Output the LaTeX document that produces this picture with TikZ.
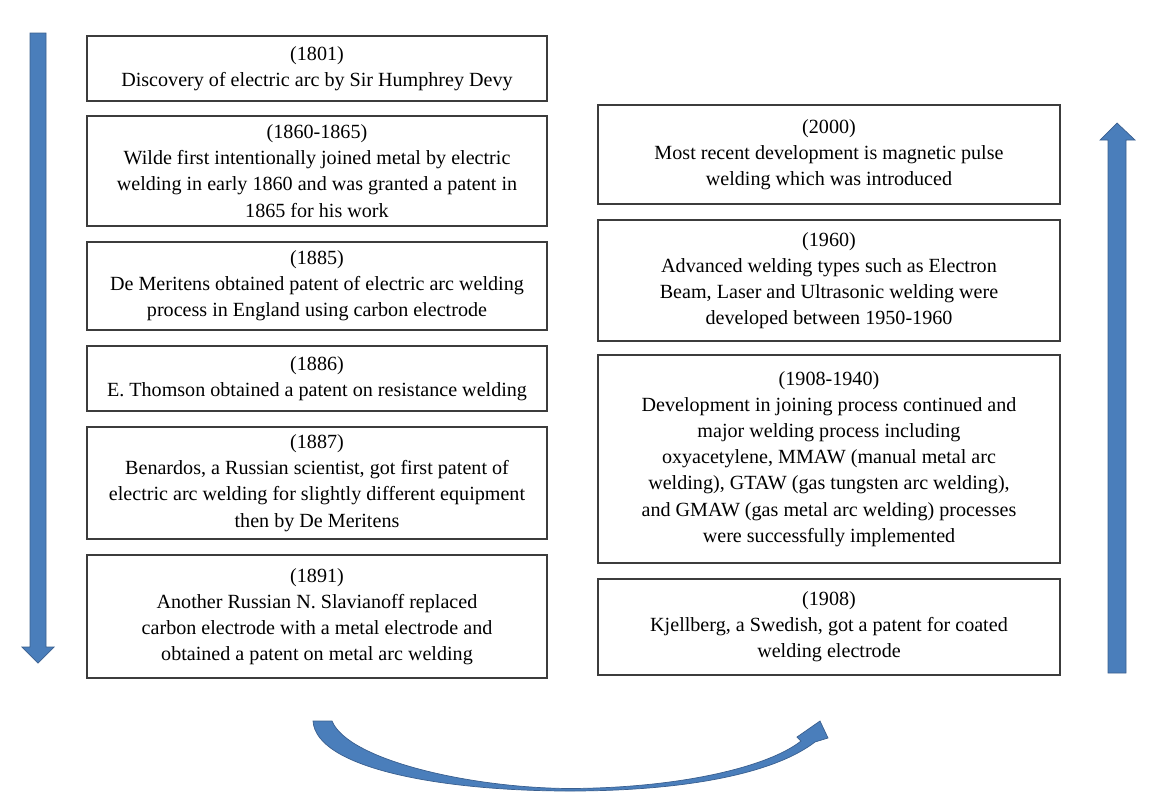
\documentclass[tikz,border=0pt]{standalone}
\usepackage{fontspec}
\setmainfont{Liberation Serif}
\definecolor{arrowblue}{HTML}{4A7EBB}
\definecolor{arrowedge}{HTML}{3A5F8F}
\definecolor{boxline}{HTML}{3C3C3C}
\tikzset{
  evt/.style={draw=boxline, line width=1.1pt, align=center, inner sep=0pt,
    font=\fontsize{14.3}{18.6}\selectfont},
  evtL/.style={evt, minimum width=11.5cm},
  evtR/.style={evt, minimum width=11.55cm},
  bluearrow/.style={fill=arrowblue, draw=arrowedge, line width=0.5pt, line join=miter}
}
\begin{document}
\begin{tikzpicture}[x=0.025cm, y=-0.025cm]
			%%%%% START %%%%%
			\useasboundingbox (0, 0) rectangle (1152, 791);
			
			% left column, read downwards
			\node[evtL, minimum height=1.625cm] (y1801) at (317, 68.5) {(1801)\\Discovery of electric arc by Sir Humphrey Devy};
			\node[evtL, minimum height=2.75cm] (y1860) at (317, 171) {(1860-1865)\\Wilde first intentionally joined metal by electric\\welding in early 1860 and was granted a patent in\\1865 for his work};
			\node[evtL, minimum height=2.2cm] (y1885) at (317, 286) {(1885)\\De Meritens obtained patent of electric arc welding\\process in England using carbon electrode};
			\node[evtL, minimum height=1.625cm] (y1886) at (317, 378.5) {(1886)\\E. Thomson obtained a patent on resistance welding};
			\node[evtL, minimum height=2.8cm] (y1887) at (317, 483) {(1887)\\Benardos, a Russian scientist, got first patent of\\electric arc welding for slightly different equipment\\then by De Meritens};
			\node[evtL, minimum height=3.075cm] (y1891) at (317, 616.5) {(1891)\\Another Russian N. Slavianoff replaced\\carbon electrode with a metal electrode and\\obtained a patent on metal arc welding};
			
			% right column, read upwards
			\node[evtR, minimum height=2.475cm] (y2000) at (829, 154.5) {(2000)\\Most recent development is magnetic pulse\\welding which was introduced};
			\node[evtR, minimum height=3.025cm] (y1960) at (829, 280.5) {(1960)\\Advanced welding types such as Electron\\Beam, Laser and Ultrasonic welding were\\developed between 1950-1960};
			\node[evtR, minimum height=5.2cm] (y1908b) at (829, 459) {(1908-1940)\\Development in joining process continued and\\major welding process including\\oxyacetylene, MMAW (manual metal arc\\welding), GTAW (gas tungsten arc welding),\\and GMAW (gas metal arc welding) processes\\were successfully implemented};
			\node[evtR, minimum height=2.4cm] (y1908) at (829, 627) {(1908)\\Kjellberg, a Swedish, got a patent for coated\\welding electrode};
			
			% block arrows
			\draw[bluearrow] (30, 33) -- (46, 33) -- (46, 647) -- (54, 647) -- (38, 663) -- (22, 647) -- (30, 647) -- cycle;
			\draw[bluearrow] (1108, 673) -- (1126, 673) -- (1126, 140) -- (1135, 140) -- (1117, 123) -- (1100, 140) -- (1108, 140) -- cycle;
			
			% curved arrow from left column to right column
			\draw[bluearrow] (313, 721) -- (332, 721)
				.. controls (348, 760) and (470, 788) .. (570, 788.5)
				.. controls (680, 788) and (768, 767) .. (801, 741)
				-- (797, 737) -- (820, 721) -- (828, 738) -- (815, 742)
				.. controls (772, 775) and (680, 791) .. (570, 791)
				.. controls (440, 791) and (316, 768) .. (313, 721) -- cycle;
			
			%%%%% END %%%%%
\end{tikzpicture}
\end{document}
